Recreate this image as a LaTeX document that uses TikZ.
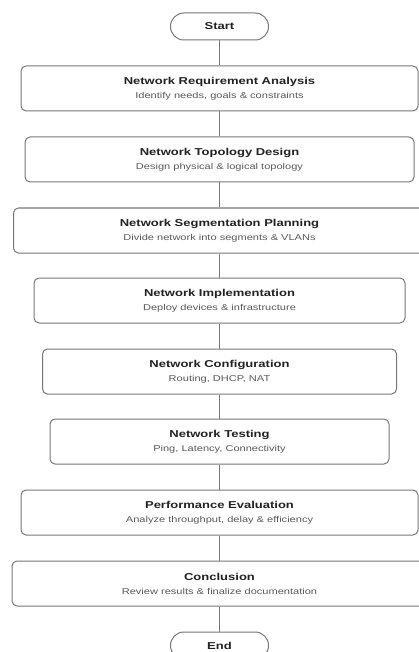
\documentclass[tikz,border=0pt]{standalone}
\usepackage{fontspec}
\setmainfont{Liberation Sans}
\usepackage{graphicx}
\definecolor{edge}{HTML}{777777}
\definecolor{ttlc}{HTML}{222222}
\definecolor{subc}{HTML}{5A5A5A}
\newcommand{\boxttl}[1]{\scalebox{1.3}[1]{\fontsize{10}{12}\selectfont\bfseries\color{ttlc}#1}}
\newcommand{\boxsub}[1]{\scalebox{1.3}[1]{\fontsize{8.5}{10}\selectfont\color{subc}#1}}
\begin{document}
\begin{tikzpicture}[x=1pt,y=-1pt,
 stepbox/.style={draw=edge, line width=1pt, rounded corners=5pt, fill=white, minimum height=45pt, inner sep=0pt, align=center},
 term/.style={draw=edge, line width=1pt, rounded corners=13.4pt, minimum width=98pt, minimum height=27pt, inner sep=0pt, fill=white},
 link/.style={draw=edge, line width=1pt}]
\useasboundingbox (0,0) rectangle (419,652);
\clip (0,0) rectangle (419,652);
\node[term] (start) at (219.5,26.5) {\boxttl{Start}};
\node[stepbox, minimum width=397pt] (b1) at (219.5,88.5) {\boxttl{Network Requirement Analysis}\\[2pt]\boxsub{Identify needs, goals \& constraints}};
\node[stepbox, minimum width=389pt] (b2) at (219.5,159.5) {\boxttl{Network Topology Design}\\[2pt]\boxsub{Design physical \& logical topology}};
\node[stepbox, minimum width=412pt] (b3) at (219.5,230.5) {\boxttl{Network Segmentation Planning}\\[2pt]\boxsub{Divide network into segments \& VLANs}};
\node[stepbox, minimum width=371pt] (b4) at (219.5,300.5) {\boxttl{Network Implementation}\\[2pt]\boxsub{Deploy devices \& infrastructure}};
\node[stepbox, minimum width=354pt] (b5) at (219.5,371.5) {\boxttl{Network Configuration}\\[2pt]\boxsub{Routing, DHCP, NAT}};
\node[stepbox, minimum width=339pt] (b6) at (219.5,441.5) {\boxttl{Network Testing}\\[2pt]\boxsub{Ping, Latency, Connectivity}};
\node[stepbox, minimum width=397pt] (b7) at (219.5,512.5) {\boxttl{Performance Evaluation}\\[2pt]\boxsub{Analyze throughput, delay \& efficiency}};
\node[stepbox, minimum width=415pt] (b8) at (219.5,583.5) {\boxttl{Conclusion}\\[2pt]\boxsub{Review results \& finalize documentation}};
\node[term] (end) at (219.5,645.5) {\boxttl{End}};
\draw[link] (start) -- (b1);
\draw[link] (b1) -- (b2);
\draw[link] (b2) -- (b3);
\draw[link] (b3) -- (b4);
\draw[link] (b4) -- (b5);
\draw[link] (b5) -- (b6);
\draw[link] (b6) -- (b7);
\draw[link] (b7) -- (b8);
\draw[link] (b8) -- (end);
\end{tikzpicture}
\end{document}
